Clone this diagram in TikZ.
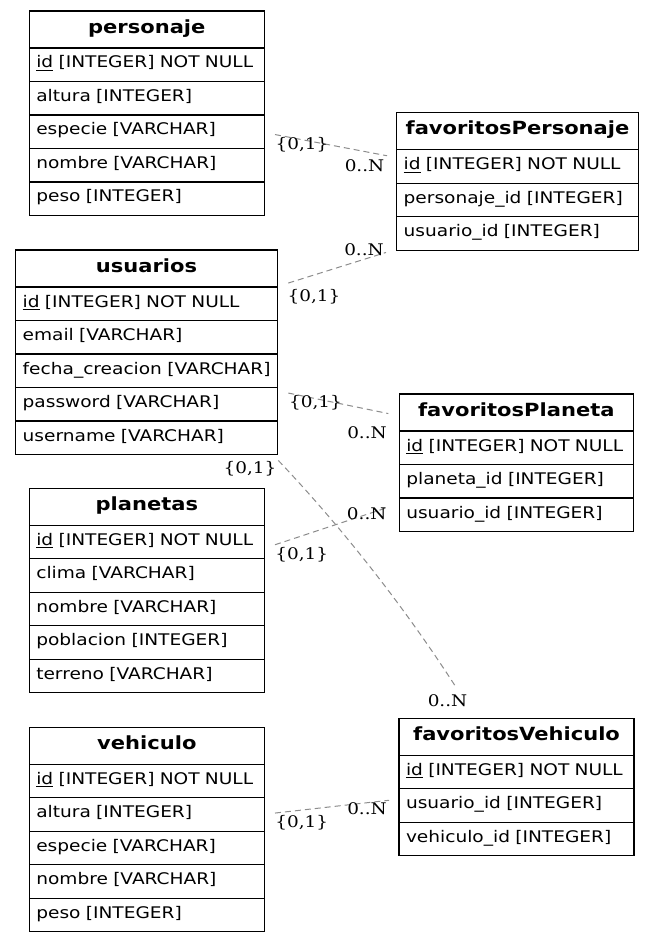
\documentclass[tikz,border=0pt]{standalone}
\usepackage{fontspec}
\setmainfont{DejaVu Sans}[FakeStretch=1.16]
\newfontfamily\etqfont{DejaVu Serif}[FakeStretch=1.15]
\usepackage{tikz}
\usetikzlibrary{positioning,calc}
\newcommand\tamano{\fontsize{12}{14}\selectfont}
\newcommand\tamanotit{\fontsize{13.6}{16}\selectfont}
\tikzset{
  titulo/.style={rectangle, draw=black, line width=0.8pt, outer sep=0pt,
                 align=center, font=\tamanotit\bfseries, inner xsep=5.25pt, inner ysep=0pt,
                 minimum height=27.75pt, text height=11pt, text depth=5.35pt},
  campo/.style={rectangle, draw=black, line width=0.8pt, outer sep=0pt,
                align=left, font=\tamano, inner xsep=5.25pt, inner ysep=0pt,
                minimum height=25.125pt, text height=10pt, text depth=5.125pt},
  rel/.style={draw=black!45, line width=0.75pt, dash pattern=on 4.5pt off 3pt},
  card/.style={font=\tamano\etqfont, inner sep=0pt}
}

\begin{document}
\begin{tikzpicture}[x=0.75pt, y=-0.75pt, node distance=0pt]
  \useasboundingbox (0,0) rectangle (653,941);

  % Tabla personaje
  \node[titulo, text width=165.75pt] (per) at (146.8,29.5) {personaje};
  \node[campo, text width=165.75pt, below=of per] (per1) {\underline{id} [INTEGER] NOT NULL};
  \node[campo, text width=165.75pt, below=of per1] (per2) {altura [INTEGER]};
  \node[campo, text width=165.75pt, below=of per2] (per3) {especie [VARCHAR]};
  \node[campo, text width=165.75pt, below=of per3] (per4) {nombre [VARCHAR]};
  \node[campo, text width=165.75pt, below=of per4] (per5) {peso [INTEGER]};

  % Tabla usuarios
  \node[titulo, text width=185.7pt] (us) at (146.5,268.5) {usuarios};
  \node[campo, text width=185.7pt, below=of us] (us1) {\underline{id} [INTEGER] NOT NULL};
  \node[campo, text width=185.7pt, below=of us1] (us2) {email [VARCHAR]};
  \node[campo, text width=185.7pt, below=of us2] (us3) {\mbox{fecha\_creacion [VARCHAR]}};
  \node[campo, text width=185.7pt, below=of us3] (us4) {password [VARCHAR]};
  \node[campo, text width=185.7pt, below=of us4] (us5) {username [VARCHAR]};

  % Tabla planetas
  \node[titulo, text width=165.75pt] (pla) at (146.8,506.8) {planetas};
  \node[campo, text width=165.75pt, below=of pla] (pla1) {\underline{id} [INTEGER] NOT NULL};
  \node[campo, text width=165.75pt, below=of pla1] (pla2) {clima [VARCHAR]};
  \node[campo, text width=165.75pt, below=of pla2] (pla3) {nombre [VARCHAR]};
  \node[campo, text width=165.75pt, below=of pla3] (pla4) {poblacion [INTEGER]};
  \node[campo, text width=165.75pt, below=of pla4] (pla5) {terreno [VARCHAR]};

  % Tabla vehiculo
  \node[titulo, text width=165.75pt] (veh) at (146.8,745.8) {vehiculo};
  \node[campo, text width=165.75pt, below=of veh] (veh1) {\underline{id} [INTEGER] NOT NULL};
  \node[campo, text width=165.75pt, below=of veh1] (veh2) {altura [INTEGER]};
  \node[campo, text width=165.75pt, below=of veh2] (veh3) {especie [VARCHAR]};
  \node[campo, text width=165.75pt, below=of veh3] (veh4) {nombre [VARCHAR]};
  \node[campo, text width=165.75pt, below=of veh4] (veh5) {peso [INTEGER]};

  % Tablas de favoritos
  \node[titulo, text width=170.7pt] (fper) at (517.5,131.2) {favoritosPersonaje};
  \node[campo, text width=170.7pt, below=of fper] (fper1) {\underline{id} [INTEGER] NOT NULL};
  \node[campo, text width=170.7pt, below=of fper1] (fper2) {personaje\_id [INTEGER]};
  \node[campo, text width=170.7pt, below=of fper2] (fper3) {usuario\_id [INTEGER]};

  \node[titulo, text width=165pt] (fpla) at (516.3,412.5) {favoritosPlaneta};
  \node[campo, text width=165pt, below=of fpla] (fpla1) {\underline{id} [INTEGER] NOT NULL};
  \node[campo, text width=165pt, below=of fpla1] (fpla2) {planeta\_id [INTEGER]};
  \node[campo, text width=165pt, below=of fpla2] (fpla3) {usuario\_id [INTEGER]};

  \node[titulo, text width=165.75pt] (fveh) at (516.5,736.8) {favoritosVehiculo};
  \node[campo, text width=165.75pt, below=of fveh] (fveh1) {\underline{id} [INTEGER] NOT NULL};
  \node[campo, text width=165.75pt, below=of fveh1] (fveh2) {usuario\_id [INTEGER]};
  \node[campo, text width=165.75pt, below=of fveh2] (fveh3) {vehiculo\_id [INTEGER]};

  % Relaciones
  \draw[rel] ($(per3.east)+(10.7,2.8)$) -- ($(fper1.west)+(-9.7,-10.7)$);
  \draw[rel] ($(us1.east)+(11,-20.7)$) -- ($(fper3.west)+(-10.7,19)$);
  \draw[rel] ($(us4.east)+(11,-11.2)$) -- ($(fpla1.west)+(-11,-34.2)$);
  \draw[rel] ($(us5.east)+(1,22.7)$) .. controls +(57,60) and +(-56.7,-88.3) .. ($(fveh.north)+(-59.8,-30)$);
  \draw[rel] ($(pla1.east)+(10.7,2.7)$) -- ($(fpla3.west)+(-11,-7.5)$);
  \draw[rel] ($(veh2.east)+(10.7,-1.5)$) -- ($(fveh2.west)+(-10,-5.3)$);

  % Cardinalidades
  \node[card] (c1a) at (302,145) {\{0,1\}};
  \node[card] (c1b) at (364.5,166) {0..N};
  \node[card] (c2a) at (314,296.5) {\{0,1\}};
  \node[card] (c2b) at (364,250) {0..N};
  \node[card] (c3a) at (315.5,402.5) {\{0,1\}};
  \node[card] (c3b) at (367,433) {0..N};
  \node[card] (c4a) at (250,469) {\{0,1\}};
  \node[card] (c4b) at (447.5,700.5) {0..N};
  \node[card] (c5a) at (301.7,555) {\{0,1\}};
  \node[card] (c5b) at (366.7,514) {0..N};
  \node[card] (c6a) at (301.7,822.5) {\{0,1\}};
  \node[card] (c6b) at (367,809) {0..N};
\end{tikzpicture}
\end{document}
